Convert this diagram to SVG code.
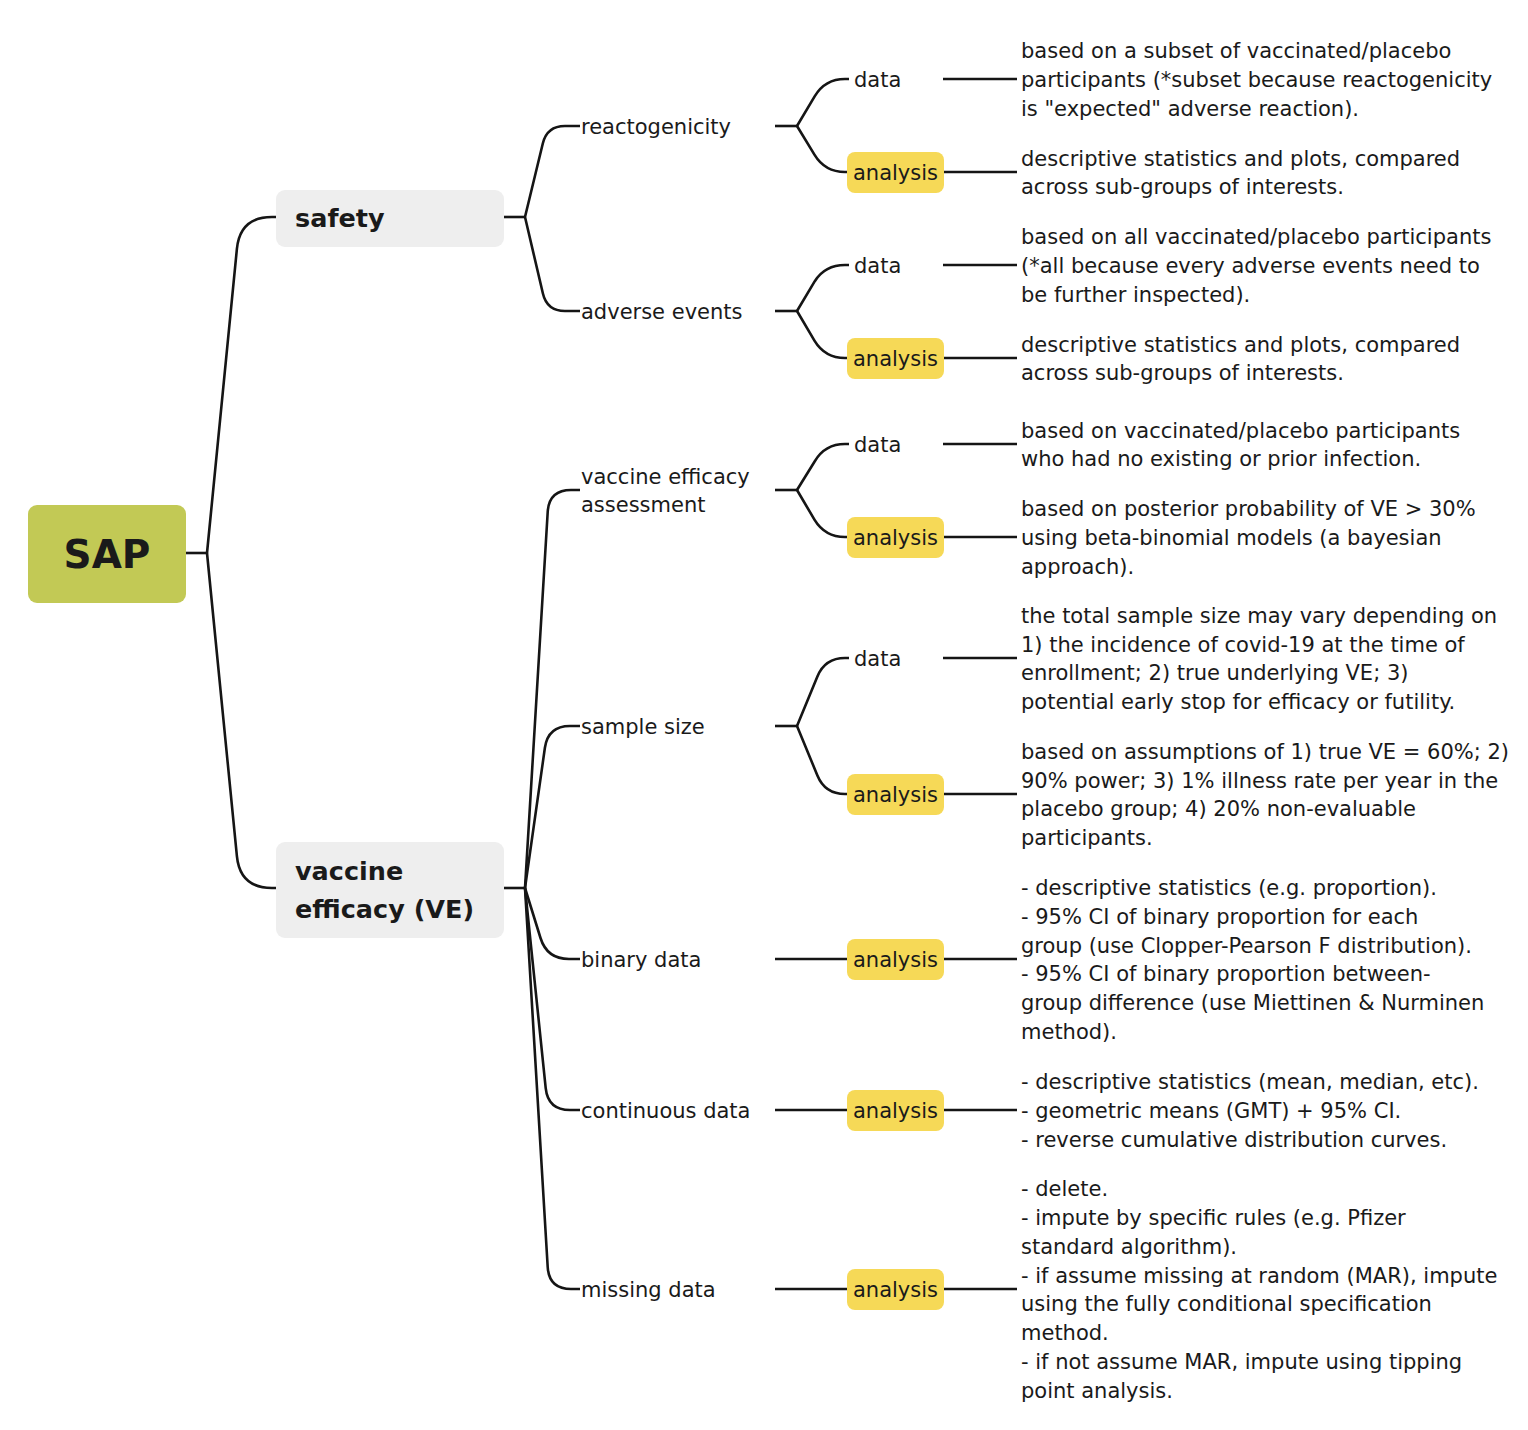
<svg xmlns="http://www.w3.org/2000/svg" width="1528" height="1430" viewBox="0 0 1528 1430">
<style>
text { font-family: "DejaVu Sans", "Liberation Sans", sans-serif; fill: #1a1a1a; }
.t { font-size: 21px; }
.b { font-size: 25.5px; font-weight: bold; }
.root { font-size: 39px; font-weight: bold; }
.ac { text-anchor: middle; }
.conn { fill: none; stroke: #151515; stroke-width: 2.6; }
.rootbox { fill: #c2c955; }
.mainbox { fill: #eeeeee; }
.anbox { fill: #f6d957; }
</style>
<rect x="0" y="0" width="1528" height="1430" fill="#ffffff"/>

<g id="connectors" class="conn">
  <path d="M186,553 H207"/>
  <path d="M207,553 L236.9,248.9 Q240,217 272,217 L276,217"/>
  <path d="M207,553 L236.9,856.1 Q240,888 272,888 L276,888"/>
  <path d="M504,217 H525"/>
  <path d="M525,217 L542.8,143.5 Q547,126 565,126 L580,126"/>
  <path d="M525,217 L542.9,293.5 Q547,311 565,311 L580,311"/>
  <path d="M504,888 H525"/>
  <path d="M525,888 L547.7,512 Q549,490 571,490 L580,490"/>
  <path d="M525,888 L544.9,747.8 Q548,726 570,726 L580,726"/>
  <path d="M525,888 L540.5,938 Q547,959 569,959 L580,959"/>
  <path d="M525,888 L545.7,1088.1 Q548,1110 570,1110 L580,1110"/>
  <path d="M525,888 L547.7,1267 Q549,1289 571,1289 L580,1289"/>
  <path d="M775,126 H797"/>
  <path d="M797,126 L814.8,96.2 Q825,79 845,79 L849,79"/>
  <path d="M797,126 L814.6,154.9 Q825,172 845,172 L847,172"/>
  <path d="M775,311 H797"/>
  <path d="M797,311 L814.8,281.2 Q825,265 845,265 L849,265"/>
  <path d="M797,311 L814.6,340.9 Q825,358 845,358 L847,358"/>
  <path d="M775,490 H797"/>
  <path d="M797,490 L814.8,461.2 Q825,444 845,444 L849,444"/>
  <path d="M797,490 L814.6,519.9 Q825,537 845,537 L847,537"/>
  <path d="M775,726 H797"/>
  <path d="M797,726 L817.4,676.5 Q825,658 845,658 L849,658"/>
  <path d="M797,726 L817.4,775.5 Q825,794 845,794 L847,794"/>
  <path d="M775,959 H847"/>
  <path d="M775,1110 H847"/>
  <path d="M775,1289 H847"/>
  <path d="M943,79 H1017"/>
  <path d="M944,172 H1017"/>
  <path d="M943,265 H1017"/>
  <path d="M944,358 H1017"/>
  <path d="M943,444 H1017"/>
  <path d="M944,537 H1017"/>
  <path d="M943,658 H1017"/>
  <path d="M944,794 H1017"/>
  <path d="M944,959 H1017"/>
  <path d="M944,1110 H1017"/>
  <path d="M944,1289 H1017"/>
</g>

<g id="sap">
  <rect class="rootbox" x="28" y="505" width="158" height="98" rx="9"/>
  <text class="root ac" x="107" y="568">SAP</text>
</g>

<g id="safety">
  <rect class="mainbox" x="276" y="190" width="228" height="57" rx="9"/>
  <text class="b" x="295" y="227">safety</text>
</g>

<g id="ve">
  <rect class="mainbox" x="276" y="842" width="228" height="96" rx="9"/>
  <text class="b" x="295" y="880">vaccine</text>
  <text class="b" x="295" y="918">efficacy (VE)</text>
</g>

<g id="reactogenicity"><text class="t" x="581" y="134">reactogenicity</text></g>
<g id="adverse-events"><text class="t" x="581" y="319">adverse events</text></g>
<g id="ve-assessment">
  <text class="t" x="581" y="483.6">vaccine efficacy</text>
  <text class="t" x="581" y="512.4">assessment</text>
</g>
<g id="sample-size"><text class="t" x="581" y="734">sample size</text></g>
<g id="binary-data"><text class="t" x="581" y="967">binary data</text></g>
<g id="continuous-data"><text class="t" x="581" y="1118">continuous data</text></g>
<g id="missing-data"><text class="t" x="581" y="1297">missing data</text></g>

<g id="react-data"><text class="t" x="854" y="87">data</text></g>
<g id="react-analysis"><rect class="anbox" x="847" y="152" width="97" height="41" rx="8"/><text class="t ac" x="895.5" y="180">analysis</text></g>
<g id="ae-data"><text class="t" x="854" y="273">data</text></g>
<g id="ae-analysis"><rect class="anbox" x="847" y="338" width="97" height="41" rx="8"/><text class="t ac" x="895.5" y="366">analysis</text></g>
<g id="vea-data"><text class="t" x="854" y="452">data</text></g>
<g id="vea-analysis"><rect class="anbox" x="847" y="517" width="97" height="41" rx="8"/><text class="t ac" x="895.5" y="545">analysis</text></g>
<g id="ss-data"><text class="t" x="854" y="666">data</text></g>
<g id="ss-analysis"><rect class="anbox" x="847" y="774" width="97" height="41" rx="8"/><text class="t ac" x="895.5" y="802">analysis</text></g>
<g id="bin-analysis"><rect class="anbox" x="847" y="939" width="97" height="41" rx="8"/><text class="t ac" x="895.5" y="967">analysis</text></g>
<g id="cont-analysis"><rect class="anbox" x="847" y="1090" width="97" height="41" rx="8"/><text class="t ac" x="895.5" y="1118">analysis</text></g>
<g id="miss-analysis"><rect class="anbox" x="847" y="1269" width="97" height="41" rx="8"/><text class="t ac" x="895.5" y="1297">analysis</text></g>

<g id="desc-react-data"><text class="t" x="1021" y="58.2">
  <tspan x="1021">based on a subset of vaccinated/placebo</tspan>
  <tspan x="1021" dy="28.8">participants (*subset because reactogenicity</tspan>
  <tspan x="1021" dy="28.8">is "expected" adverse reaction).</tspan>
</text></g>
<g id="desc-react-analysis"><text class="t" x="1021" y="165.6">
  <tspan x="1021">descriptive statistics and plots, compared</tspan>
  <tspan x="1021" dy="28.8">across sub-groups of interests.</tspan>
</text></g>
<g id="desc-ae-data"><text class="t" x="1021" y="244.2">
  <tspan x="1021">based on all vaccinated/placebo participants</tspan>
  <tspan x="1021" dy="28.8">(*all because every adverse events need to</tspan>
  <tspan x="1021" dy="28.8">be further inspected).</tspan>
</text></g>
<g id="desc-ae-analysis"><text class="t" x="1021" y="351.6">
  <tspan x="1021">descriptive statistics and plots, compared</tspan>
  <tspan x="1021" dy="28.8">across sub-groups of interests.</tspan>
</text></g>
<g id="desc-vea-data"><text class="t" x="1021" y="437.6">
  <tspan x="1021">based on vaccinated/placebo participants</tspan>
  <tspan x="1021" dy="28.8">who had no existing or prior infection.</tspan>
</text></g>
<g id="desc-vea-analysis"><text class="t" x="1021" y="516.2">
  <tspan x="1021">based on posterior probability of VE &gt; 30%</tspan>
  <tspan x="1021" dy="28.8">using beta-binomial models (a bayesian</tspan>
  <tspan x="1021" dy="28.8">approach).</tspan>
</text></g>
<g id="desc-ss-data"><text class="t" x="1021" y="622.8">
  <tspan x="1021">the total sample size may vary depending on</tspan>
  <tspan x="1021" dy="28.8">1) the incidence of covid-19 at the time of</tspan>
  <tspan x="1021" dy="28.8">enrollment; 2) true underlying VE; 3)</tspan>
  <tspan x="1021" dy="28.8">potential early stop for efficacy or futility.</tspan>
</text></g>
<g id="desc-ss-analysis"><text class="t" x="1021" y="758.8">
  <tspan x="1021">based on assumptions of 1) true VE = 60%; 2)</tspan>
  <tspan x="1021" dy="28.8">90% power; 3) 1% illness rate per year in the</tspan>
  <tspan x="1021" dy="28.8">placebo group; 4) 20% non-evaluable</tspan>
  <tspan x="1021" dy="28.8">participants.</tspan>
</text></g>
<g id="desc-binary"><text class="t" x="1021" y="895">
  <tspan x="1021">- descriptive statistics (e.g. proportion).</tspan>
  <tspan x="1021" dy="28.8">- 95% CI of binary proportion for each</tspan>
  <tspan x="1021" dy="28.8">group (use Clopper-Pearson F distribution).</tspan>
  <tspan x="1021" dy="28.8">- 95% CI of binary proportion between-</tspan>
  <tspan x="1021" dy="28.8">group difference (use Miettinen &amp; Nurminen</tspan>
  <tspan x="1021" dy="28.8">method).</tspan>
</text></g>
<g id="desc-continuous"><text class="t" x="1021" y="1089.2">
  <tspan x="1021">- descriptive statistics (mean, median, etc).</tspan>
  <tspan x="1021" dy="28.8">- geometric means (GMT) + 95% CI.</tspan>
  <tspan x="1021" dy="28.8">- reverse cumulative distribution curves.</tspan>
</text></g>
<g id="desc-missing"><text class="t" x="1021" y="1196.2">
  <tspan x="1021">- delete.</tspan>
  <tspan x="1021" dy="28.8">- impute by specific rules (e.g. Pfizer</tspan>
  <tspan x="1021" dy="28.8">standard algorithm).</tspan>
  <tspan x="1021" dy="28.8">- if assume missing at random (MAR), impute</tspan>
  <tspan x="1021" dy="28.8">using the fully conditional specification</tspan>
  <tspan x="1021" dy="28.8">method.</tspan>
  <tspan x="1021" dy="28.8">- if not assume MAR, impute using tipping</tspan>
  <tspan x="1021" dy="28.8">point analysis.</tspan>
</text></g>
</svg>
